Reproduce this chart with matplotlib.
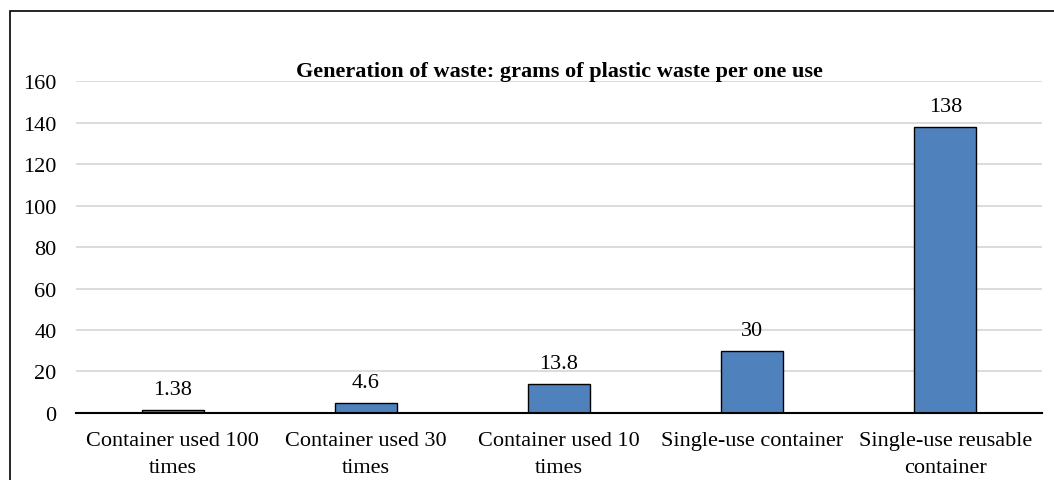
import matplotlib.pyplot as plt
from matplotlib.patches import Rectangle

categories = ['Container used 100\ntimes', 'Container used 30\ntimes',
              'Container used 10\ntimes', 'Single-use container',
              'Single-use reusable\ncontainer']
values = [1.38, 4.6, 13.8, 30, 138]
value_labels = ['1.38', '4.6', '13.8', '30', '138']
yticks = [0, 20, 40, 60, 80, 100, 120, 140, 160]

plt.rcParams['font.family'] = ['Liberation Serif', 'DejaVu Serif']

fig = plt.figure(figsize=(10.54, 4.81), dpi=100)
ax = fig.add_axes([0.0721, 0.1393, 0.9165, 0.6902])

x = range(len(values))
bars = ax.bar(x, values, width=0.32, color='#4f81bd', edgecolor='black',
              linewidth=1.0, zorder=3)
for b, lab in zip(bars, value_labels):
    ax.annotate(lab, (b.get_x() + b.get_width() / 2, b.get_height()),
                xytext=(0, 8), textcoords='offset points',
                ha='center', va='bottom', fontsize=16)

ax.set_xlim(-0.5, len(values) - 0.5)
ax.set_ylim(0, 160)
ax.set_yticks(yticks)
ax.set_xticks(list(x))
ax.set_xticklabels(categories, fontsize=16, linespacing=1.55)
ax.tick_params(axis='y', labelsize=16, length=0, pad=14)
ax.tick_params(axis='x', length=0, pad=13)
ax.grid(axis='y', color='#d9d9d9', linewidth=1.3, zorder=0)
for s in ['top', 'right', 'left']:
    ax.spines[s].set_visible(False)
ax.spines['bottom'].set_linewidth(1.5)
ax.spines['bottom'].set_zorder(4)

ax.set_title('Generation of waste: grams of plastic waste per one use',
             fontsize=16, fontweight='bold', pad=0.5)

# outer frame (cut off at right and bottom)
fig.patches.append(Rectangle((10 / 1054, -0.1), 1.2, 0.975 + 0.1,
                             transform=fig.transFigure, fill=False,
                             edgecolor='black', linewidth=1.2))

fig.savefig('out.png', dpi=100)
